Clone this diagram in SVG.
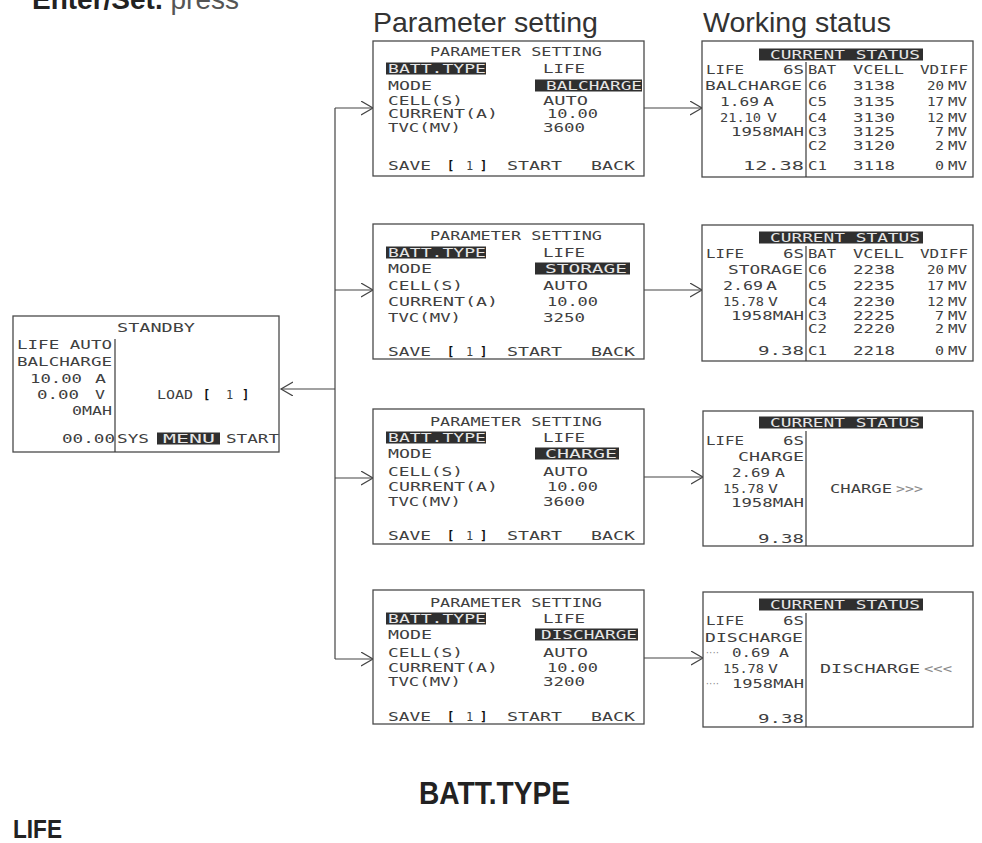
<svg xmlns="http://www.w3.org/2000/svg" width="982" height="843" viewBox="0 0 982 843">
<defs>
<style>
.lcd{font-family:"DejaVu Sans Mono","Liberation Mono",monospace;font-size:12px;fill:#404040}
.inv{fill:#e6e6e6}
.bar{fill:#2f2f2f}
.box{fill:#fff;stroke:#4a4a4a;stroke-width:1.3}
.div{stroke:#3a3a3a;stroke-width:1.2}
.br{font-family:"DejaVu Sans Mono","Liberation Mono",monospace;font-size:12px;font-weight:bold;fill:#111}
.dim{fill:#8a8a8a}
.dots{font-family:"DejaVu Sans Mono","Liberation Mono",monospace;font-size:8px;letter-spacing:-1.5px;fill:#8a8a8a}
.title{font-family:"Liberation Sans",Arial,sans-serif;font-size:28.5px;fill:#333}
.head{font-family:"Liberation Sans",Arial,sans-serif;font-weight:bold;fill:#222}
.con{fill:none;stroke:#444;stroke-width:1.2}
</style>
<marker id="chev" markerUnits="userSpaceOnUse" markerWidth="14" markerHeight="16" refX="12" refY="7" orient="auto" viewBox="0 0 14 16">
<path d="M0,0 L12,7 L0,14" fill="none" stroke="#444" stroke-width="1.2"/>
</marker>
</defs>
<rect width="982" height="843" fill="#fff"/>

<g id="intro">
<text x="32" y="9" class="head" font-size="28" fill="#333">Enter/Set.<tspan font-weight="normal" fill="#555"> press</tspan></text>
</g>

<g id="titles">
<text x="373" y="32" class="title">Parameter setting</text>
<text x="703" y="32" class="title">Working status</text>
</g>

<g id="connectors">
<path class="con" d="M335,108 V659"/>
<path class="con" d="M335,108 H373" marker-end="url(#chev)"/>
<path class="con" d="M335,290 H373" marker-end="url(#chev)"/>
<path class="con" d="M335,478 H373" marker-end="url(#chev)"/>
<path class="con" d="M335,659 H373" marker-end="url(#chev)"/>
<path class="con" d="M335,389 H281" marker-end="url(#chev)"/>
<path class="con" d="M644,108 H702" marker-end="url(#chev)"/>
<path class="con" d="M644,290 H702" marker-end="url(#chev)"/>
<path class="con" d="M644,477 H703" marker-end="url(#chev)"/>
<path class="con" d="M644,658 H703" marker-end="url(#chev)"/>
</g>

<g id="standby">
<rect class="box" x="13" y="316" width="266" height="136"/>
<line class="div" x1="115" y1="339" x2="115" y2="452"/>
<text class="lcd" x="117" y="332" textLength="78" lengthAdjust="spacingAndGlyphs">STANDBY</text>
<text class="lcd" x="17" y="349" textLength="95" lengthAdjust="spacingAndGlyphs">LIFE AUTO</text>
<text class="lcd" x="17" y="366" textLength="95" lengthAdjust="spacingAndGlyphs">BALCHARGE</text>
<text class="lcd" x="30" y="383" textLength="52" lengthAdjust="spacingAndGlyphs">10.00</text>
<text class="lcd" x="95" y="383" textLength="11" lengthAdjust="spacingAndGlyphs">A</text>
<text class="lcd" x="37" y="399" textLength="42" lengthAdjust="spacingAndGlyphs">0.00</text>
<text class="lcd" x="95" y="399" textLength="10" lengthAdjust="spacingAndGlyphs">V</text>
<text class="lcd" x="72" y="415" textLength="40" lengthAdjust="spacingAndGlyphs">0MAH</text>
<text class="lcd" x="62" y="443" textLength="53" lengthAdjust="spacingAndGlyphs">00.00</text>
<text class="lcd" x="117" y="443" textLength="32" lengthAdjust="spacingAndGlyphs">SYS</text>
<rect class="bar" x="157" y="432.5" width="63" height="12"/>
<text class="lcd inv" x="163" y="443" textLength="52" lengthAdjust="spacingAndGlyphs">MENU</text>
<text class="lcd" x="226" y="443" textLength="53" lengthAdjust="spacingAndGlyphs">START</text>
<text class="lcd" x="157" y="399" textLength="36" lengthAdjust="spacingAndGlyphs">LOAD</text>
<text class="br" x="203" y="399">[</text>
<text class="lcd" x="226" y="399">1</text>
<text class="br" x="242" y="399">]</text>
</g>

<g id="param1">
<rect class="box" x="373" y="41" width="271" height="135"/>
<text class="lcd" x="430" y="56" textLength="172" lengthAdjust="spacingAndGlyphs">PARAMETER SETTING</text>
<rect class="bar" x="386" y="62.5" width="100" height="12"/>
<text class="lcd inv" x="388" y="73" textLength="98" lengthAdjust="spacingAndGlyphs">BATT.TYPE</text>
<text class="lcd" x="543" y="73" textLength="42" lengthAdjust="spacingAndGlyphs">LIFE</text>
<text class="lcd" x="388" y="90" textLength="44" lengthAdjust="spacingAndGlyphs">MODE</text>
<rect class="bar" x="535" y="79.5" width="107" height="12"/>
<text class="lcd inv" x="546" y="90" textLength="96" lengthAdjust="spacingAndGlyphs">BALCHARGE</text>
<text class="lcd" x="388" y="105" textLength="75" lengthAdjust="spacingAndGlyphs">CELL(S)</text>
<text class="lcd" x="543" y="105" textLength="45" lengthAdjust="spacingAndGlyphs">AUTO</text>
<text class="lcd" x="388" y="118" textLength="110" lengthAdjust="spacingAndGlyphs">CURRENT(A)</text>
<text class="lcd" x="547" y="118" textLength="51" lengthAdjust="spacingAndGlyphs">10.00</text>
<text class="lcd" x="388" y="132" textLength="73" lengthAdjust="spacingAndGlyphs">TVC(MV)</text>
<text class="lcd" x="543" y="132" textLength="42" lengthAdjust="spacingAndGlyphs">3600</text>
<text class="lcd" x="388" y="170" textLength="43" lengthAdjust="spacingAndGlyphs">SAVE</text>
<text class="br" x="447" y="170">[</text>
<text class="lcd" x="466" y="170">1</text>
<text class="br" x="480" y="170">]</text>
<text class="lcd" x="507" y="170" textLength="55" lengthAdjust="spacingAndGlyphs">START</text>
<text class="lcd" x="591" y="170" textLength="44" lengthAdjust="spacingAndGlyphs">BACK</text>
</g>

<g id="param2">
<rect class="box" x="373" y="224" width="271" height="135"/>
<text class="lcd" x="430" y="240" textLength="172" lengthAdjust="spacingAndGlyphs">PARAMETER SETTING</text>
<rect class="bar" x="386" y="246.5" width="100" height="12"/>
<text class="lcd inv" x="388" y="257" textLength="98" lengthAdjust="spacingAndGlyphs">BATT.TYPE</text>
<text class="lcd" x="543" y="257" textLength="42" lengthAdjust="spacingAndGlyphs">LIFE</text>
<text class="lcd" x="388" y="273" textLength="44" lengthAdjust="spacingAndGlyphs">MODE</text>
<rect class="bar" x="535" y="262.5" width="95" height="12"/>
<text class="lcd inv" x="545" y="273" textLength="82" lengthAdjust="spacingAndGlyphs">STORAGE</text>
<text class="lcd" x="388" y="290" textLength="75" lengthAdjust="spacingAndGlyphs">CELL(S)</text>
<text class="lcd" x="543" y="290" textLength="45" lengthAdjust="spacingAndGlyphs">AUTO</text>
<text class="lcd" x="388" y="306" textLength="110" lengthAdjust="spacingAndGlyphs">CURRENT(A)</text>
<text class="lcd" x="547" y="306" textLength="51" lengthAdjust="spacingAndGlyphs">10.00</text>
<text class="lcd" x="388" y="322" textLength="73" lengthAdjust="spacingAndGlyphs">TVC(MV)</text>
<text class="lcd" x="543" y="322" textLength="42" lengthAdjust="spacingAndGlyphs">3250</text>
<text class="lcd" x="388" y="356" textLength="43" lengthAdjust="spacingAndGlyphs">SAVE</text>
<text class="br" x="447" y="356">[</text>
<text class="lcd" x="466" y="356">1</text>
<text class="br" x="480" y="356">]</text>
<text class="lcd" x="507" y="356" textLength="55" lengthAdjust="spacingAndGlyphs">START</text>
<text class="lcd" x="591" y="356" textLength="44" lengthAdjust="spacingAndGlyphs">BACK</text>
</g>

<g id="param3">
<rect class="box" x="373" y="409" width="271" height="135"/>
<text class="lcd" x="430" y="426" textLength="172" lengthAdjust="spacingAndGlyphs">PARAMETER SETTING</text>
<rect class="bar" x="386" y="431.5" width="100" height="12"/>
<text class="lcd inv" x="388" y="442" textLength="98" lengthAdjust="spacingAndGlyphs">BATT.TYPE</text>
<text class="lcd" x="543" y="442" textLength="42" lengthAdjust="spacingAndGlyphs">LIFE</text>
<text class="lcd" x="388" y="458" textLength="44" lengthAdjust="spacingAndGlyphs">MODE</text>
<rect class="bar" x="535" y="447.5" width="84" height="12"/>
<text class="lcd inv" x="545" y="458" textLength="72" lengthAdjust="spacingAndGlyphs">CHARGE</text>
<text class="lcd" x="388" y="476" textLength="75" lengthAdjust="spacingAndGlyphs">CELL(S)</text>
<text class="lcd" x="543" y="476" textLength="45" lengthAdjust="spacingAndGlyphs">AUTO</text>
<text class="lcd" x="388" y="491" textLength="110" lengthAdjust="spacingAndGlyphs">CURRENT(A)</text>
<text class="lcd" x="547" y="491" textLength="51" lengthAdjust="spacingAndGlyphs">10.00</text>
<text class="lcd" x="388" y="506" textLength="73" lengthAdjust="spacingAndGlyphs">TVC(MV)</text>
<text class="lcd" x="543" y="506" textLength="42" lengthAdjust="spacingAndGlyphs">3600</text>
<text class="lcd" x="388" y="540" textLength="43" lengthAdjust="spacingAndGlyphs">SAVE</text>
<text class="br" x="447" y="540">[</text>
<text class="lcd" x="466" y="540">1</text>
<text class="br" x="480" y="540">]</text>
<text class="lcd" x="507" y="540" textLength="55" lengthAdjust="spacingAndGlyphs">START</text>
<text class="lcd" x="591" y="540" textLength="44" lengthAdjust="spacingAndGlyphs">BACK</text>
</g>

<g id="param4">
<rect class="box" x="373" y="590" width="271" height="134"/>
<text class="lcd" x="430" y="607" textLength="172" lengthAdjust="spacingAndGlyphs">PARAMETER SETTING</text>
<rect class="bar" x="386" y="612.5" width="100" height="12"/>
<text class="lcd inv" x="388" y="623" textLength="98" lengthAdjust="spacingAndGlyphs">BATT.TYPE</text>
<text class="lcd" x="543" y="623" textLength="42" lengthAdjust="spacingAndGlyphs">LIFE</text>
<text class="lcd" x="388" y="639" textLength="44" lengthAdjust="spacingAndGlyphs">MODE</text>
<rect class="bar" x="535" y="628.5" width="103" height="12"/>
<text class="lcd inv" x="541" y="639" textLength="96" lengthAdjust="spacingAndGlyphs">DISCHARGE</text>
<text class="lcd" x="388" y="657" textLength="75" lengthAdjust="spacingAndGlyphs">CELL(S)</text>
<text class="lcd" x="543" y="657" textLength="45" lengthAdjust="spacingAndGlyphs">AUTO</text>
<text class="lcd" x="388" y="672" textLength="110" lengthAdjust="spacingAndGlyphs">CURRENT(A)</text>
<text class="lcd" x="547" y="672" textLength="51" lengthAdjust="spacingAndGlyphs">10.00</text>
<text class="lcd" x="388" y="686" textLength="73" lengthAdjust="spacingAndGlyphs">TVC(MV)</text>
<text class="lcd" x="543" y="686" textLength="42" lengthAdjust="spacingAndGlyphs">3200</text>
<text class="lcd" x="388" y="721" textLength="43" lengthAdjust="spacingAndGlyphs">SAVE</text>
<text class="br" x="447" y="721">[</text>
<text class="lcd" x="466" y="721">1</text>
<text class="br" x="480" y="721">]</text>
<text class="lcd" x="507" y="721" textLength="55" lengthAdjust="spacingAndGlyphs">START</text>
<text class="lcd" x="591" y="721" textLength="44" lengthAdjust="spacingAndGlyphs">BACK</text>
</g>

<g id="status1">
<rect class="box" x="702" y="41" width="271" height="136"/>
<rect class="bar" x="759" y="48.5" width="164" height="12"/>
<text class="lcd inv" x="770" y="59" textLength="150" lengthAdjust="spacingAndGlyphs">CURRENT STATUS</text>
<line class="div" x1="806" y1="62" x2="806" y2="177"/>
<text class="lcd" x="706" y="74" textLength="38" lengthAdjust="spacingAndGlyphs">LIFE</text>
<text class="lcd" x="783" y="74" textLength="21" lengthAdjust="spacingAndGlyphs">6S</text>
<text class="lcd" x="705" y="90" textLength="97" lengthAdjust="spacingAndGlyphs">BALCHARGE</text>
<text class="lcd" x="720" y="106" textLength="39" lengthAdjust="spacingAndGlyphs">1.69</text>
<text class="lcd" x="763" y="106" textLength="11" lengthAdjust="spacingAndGlyphs">A</text>
<text class="lcd" x="720" y="122" textLength="41" lengthAdjust="spacingAndGlyphs">21.10</text>
<text class="lcd" x="767" y="122" textLength="10" lengthAdjust="spacingAndGlyphs">V</text>
<text class="lcd" x="731" y="136" textLength="73" lengthAdjust="spacingAndGlyphs">1958MAH</text>
<text class="lcd" x="743" y="170" textLength="61" lengthAdjust="spacingAndGlyphs">12.38</text>
<text class="lcd" x="808" y="74" textLength="28" lengthAdjust="spacingAndGlyphs">BAT</text>
<text class="lcd" x="853" y="74" textLength="51" lengthAdjust="spacingAndGlyphs">VCELL</text>
<text class="lcd" x="920" y="74" textLength="48" lengthAdjust="spacingAndGlyphs">VDIFF</text>
<text class="lcd" x="808" y="90" textLength="19" lengthAdjust="spacingAndGlyphs">C6</text>
<text class="lcd" x="853" y="90" textLength="42" lengthAdjust="spacingAndGlyphs">3138</text>
<text class="lcd" x="927" y="90" textLength="17" lengthAdjust="spacingAndGlyphs">20</text>
<text class="lcd" x="948" y="90" textLength="19" lengthAdjust="spacingAndGlyphs">MV</text>
<text class="lcd" x="808" y="106" textLength="19" lengthAdjust="spacingAndGlyphs">C5</text>
<text class="lcd" x="853" y="106" textLength="42" lengthAdjust="spacingAndGlyphs">3135</text>
<text class="lcd" x="927" y="106" textLength="17" lengthAdjust="spacingAndGlyphs">17</text>
<text class="lcd" x="948" y="106" textLength="19" lengthAdjust="spacingAndGlyphs">MV</text>
<text class="lcd" x="808" y="122" textLength="19" lengthAdjust="spacingAndGlyphs">C4</text>
<text class="lcd" x="853" y="122" textLength="42" lengthAdjust="spacingAndGlyphs">3130</text>
<text class="lcd" x="927" y="122" textLength="17" lengthAdjust="spacingAndGlyphs">12</text>
<text class="lcd" x="948" y="122" textLength="19" lengthAdjust="spacingAndGlyphs">MV</text>
<text class="lcd" x="808" y="136" textLength="19" lengthAdjust="spacingAndGlyphs">C3</text>
<text class="lcd" x="853" y="136" textLength="42" lengthAdjust="spacingAndGlyphs">3125</text>
<text class="lcd" x="935" y="136" textLength="9" lengthAdjust="spacingAndGlyphs">7</text>
<text class="lcd" x="948" y="136" textLength="19" lengthAdjust="spacingAndGlyphs">MV</text>
<text class="lcd" x="808" y="150" textLength="19" lengthAdjust="spacingAndGlyphs">C2</text>
<text class="lcd" x="853" y="150" textLength="42" lengthAdjust="spacingAndGlyphs">3120</text>
<text class="lcd" x="935" y="150" textLength="9" lengthAdjust="spacingAndGlyphs">2</text>
<text class="lcd" x="948" y="150" textLength="19" lengthAdjust="spacingAndGlyphs">MV</text>
<text class="lcd" x="808" y="170" textLength="19" lengthAdjust="spacingAndGlyphs">C1</text>
<text class="lcd" x="853" y="170" textLength="42" lengthAdjust="spacingAndGlyphs">3118</text>
<text class="lcd" x="935" y="170" textLength="9" lengthAdjust="spacingAndGlyphs">0</text>
<text class="lcd" x="948" y="170" textLength="19" lengthAdjust="spacingAndGlyphs">MV</text>
</g>

<g id="status2">
<rect class="box" x="702" y="225" width="271" height="136"/>
<rect class="bar" x="759" y="231.5" width="164" height="12"/>
<text class="lcd inv" x="770" y="242" textLength="150" lengthAdjust="spacingAndGlyphs">CURRENT STATUS</text>
<line class="div" x1="806" y1="246" x2="806" y2="361"/>
<text class="lcd" x="706" y="258" textLength="38" lengthAdjust="spacingAndGlyphs">LIFE</text>
<text class="lcd" x="783" y="258" textLength="21" lengthAdjust="spacingAndGlyphs">6S</text>
<text class="lcd" x="728" y="274" textLength="75" lengthAdjust="spacingAndGlyphs">STORAGE</text>
<text class="lcd" x="723" y="290" textLength="40" lengthAdjust="spacingAndGlyphs">2.69</text>
<text class="lcd" x="766" y="290" textLength="11" lengthAdjust="spacingAndGlyphs">A</text>
<text class="lcd" x="723" y="306" textLength="41" lengthAdjust="spacingAndGlyphs">15.78</text>
<text class="lcd" x="768" y="306" textLength="10" lengthAdjust="spacingAndGlyphs">V</text>
<text class="lcd" x="731" y="320" textLength="73" lengthAdjust="spacingAndGlyphs">1958MAH</text>
<text class="lcd" x="758" y="355" textLength="46" lengthAdjust="spacingAndGlyphs">9.38</text>
<text class="lcd" x="808" y="258" textLength="28" lengthAdjust="spacingAndGlyphs">BAT</text>
<text class="lcd" x="853" y="258" textLength="51" lengthAdjust="spacingAndGlyphs">VCELL</text>
<text class="lcd" x="920" y="258" textLength="48" lengthAdjust="spacingAndGlyphs">VDIFF</text>
<text class="lcd" x="808" y="274" textLength="19" lengthAdjust="spacingAndGlyphs">C6</text>
<text class="lcd" x="853" y="274" textLength="42" lengthAdjust="spacingAndGlyphs">2238</text>
<text class="lcd" x="927" y="274" textLength="17" lengthAdjust="spacingAndGlyphs">20</text>
<text class="lcd" x="948" y="274" textLength="19" lengthAdjust="spacingAndGlyphs">MV</text>
<text class="lcd" x="808" y="290" textLength="19" lengthAdjust="spacingAndGlyphs">C5</text>
<text class="lcd" x="853" y="290" textLength="42" lengthAdjust="spacingAndGlyphs">2235</text>
<text class="lcd" x="927" y="290" textLength="17" lengthAdjust="spacingAndGlyphs">17</text>
<text class="lcd" x="948" y="290" textLength="19" lengthAdjust="spacingAndGlyphs">MV</text>
<text class="lcd" x="808" y="306" textLength="19" lengthAdjust="spacingAndGlyphs">C4</text>
<text class="lcd" x="853" y="306" textLength="42" lengthAdjust="spacingAndGlyphs">2230</text>
<text class="lcd" x="927" y="306" textLength="17" lengthAdjust="spacingAndGlyphs">12</text>
<text class="lcd" x="948" y="306" textLength="19" lengthAdjust="spacingAndGlyphs">MV</text>
<text class="lcd" x="808" y="320" textLength="19" lengthAdjust="spacingAndGlyphs">C3</text>
<text class="lcd" x="853" y="320" textLength="42" lengthAdjust="spacingAndGlyphs">2225</text>
<text class="lcd" x="935" y="320" textLength="9" lengthAdjust="spacingAndGlyphs">7</text>
<text class="lcd" x="948" y="320" textLength="19" lengthAdjust="spacingAndGlyphs">MV</text>
<text class="lcd" x="808" y="333" textLength="19" lengthAdjust="spacingAndGlyphs">C2</text>
<text class="lcd" x="853" y="333" textLength="42" lengthAdjust="spacingAndGlyphs">2220</text>
<text class="lcd" x="935" y="333" textLength="9" lengthAdjust="spacingAndGlyphs">2</text>
<text class="lcd" x="948" y="333" textLength="19" lengthAdjust="spacingAndGlyphs">MV</text>
<text class="lcd" x="808" y="355" textLength="19" lengthAdjust="spacingAndGlyphs">C1</text>
<text class="lcd" x="853" y="355" textLength="42" lengthAdjust="spacingAndGlyphs">2218</text>
<text class="lcd" x="935" y="355" textLength="9" lengthAdjust="spacingAndGlyphs">0</text>
<text class="lcd" x="948" y="355" textLength="19" lengthAdjust="spacingAndGlyphs">MV</text>
</g>

<g id="status3">
<rect class="box" x="703" y="411" width="270" height="135"/>
<rect class="bar" x="759" y="416.5" width="164" height="12"/>
<text class="lcd inv" x="770" y="427" textLength="150" lengthAdjust="spacingAndGlyphs">CURRENT STATUS</text>
<line class="div" x1="806" y1="431" x2="806" y2="546"/>
<text class="lcd" x="706" y="445" textLength="38" lengthAdjust="spacingAndGlyphs">LIFE</text>
<text class="lcd" x="783" y="445" textLength="21" lengthAdjust="spacingAndGlyphs">6S</text>
<text class="lcd" x="738" y="461" textLength="66" lengthAdjust="spacingAndGlyphs">CHARGE</text>
<text class="lcd" x="732" y="477" textLength="38" lengthAdjust="spacingAndGlyphs">2.69</text>
<text class="lcd" x="775" y="477" textLength="10" lengthAdjust="spacingAndGlyphs">A</text>
<text class="lcd" x="723" y="493" textLength="41" lengthAdjust="spacingAndGlyphs">15.78</text>
<text class="lcd" x="768" y="493" textLength="10" lengthAdjust="spacingAndGlyphs">V</text>
<text class="lcd" x="731" y="507" textLength="73" lengthAdjust="spacingAndGlyphs">1958MAH</text>
<text class="lcd" x="758" y="543" textLength="46" lengthAdjust="spacingAndGlyphs">9.38</text>
<text class="lcd" x="830" y="493" textLength="62" lengthAdjust="spacingAndGlyphs">CHARGE</text>
<text class="lcd dim" x="896" y="493" textLength="27" lengthAdjust="spacingAndGlyphs">&gt;&gt;&gt;</text>
</g>

<g id="status4">
<rect class="box" x="703" y="592" width="270" height="135"/>
<rect class="bar" x="759" y="598.5" width="164" height="12"/>
<text class="lcd inv" x="770" y="609" textLength="150" lengthAdjust="spacingAndGlyphs">CURRENT STATUS</text>
<line class="div" x1="806" y1="613" x2="806" y2="727"/>
<text class="lcd" x="706" y="625" textLength="38" lengthAdjust="spacingAndGlyphs">LIFE</text>
<text class="lcd" x="783" y="625" textLength="21" lengthAdjust="spacingAndGlyphs">6S</text>
<text class="lcd" x="705" y="642" textLength="98" lengthAdjust="spacingAndGlyphs">DISCHARGE</text>
<text class="dots" x="705" y="656">····</text>
<text class="lcd" x="732" y="657" textLength="38" lengthAdjust="spacingAndGlyphs">0.69</text>
<text class="lcd" x="779" y="657" textLength="10" lengthAdjust="spacingAndGlyphs">A</text>
<text class="lcd" x="723" y="673" textLength="41" lengthAdjust="spacingAndGlyphs">15.78</text>
<text class="lcd" x="768" y="673" textLength="10" lengthAdjust="spacingAndGlyphs">V</text>
<text class="dots" x="705" y="687">····</text>
<text class="lcd" x="732" y="688" textLength="72" lengthAdjust="spacingAndGlyphs">1958MAH</text>
<text class="lcd" x="758" y="723" textLength="46" lengthAdjust="spacingAndGlyphs">9.38</text>
<text class="lcd" x="820" y="673" textLength="100" lengthAdjust="spacingAndGlyphs">DISCHARGE</text>
<text class="lcd dim" x="924" y="673" textLength="28" lengthAdjust="spacingAndGlyphs">&lt;&lt;&lt;</text>
</g>

<g id="footer">
<text class="head" x="419" y="804" font-size="31" textLength="151" lengthAdjust="spacingAndGlyphs">BATT.TYPE</text>
<text class="head" x="13" y="838" font-size="25" textLength="49" lengthAdjust="spacingAndGlyphs">LIFE</text>
</g>
</svg>
